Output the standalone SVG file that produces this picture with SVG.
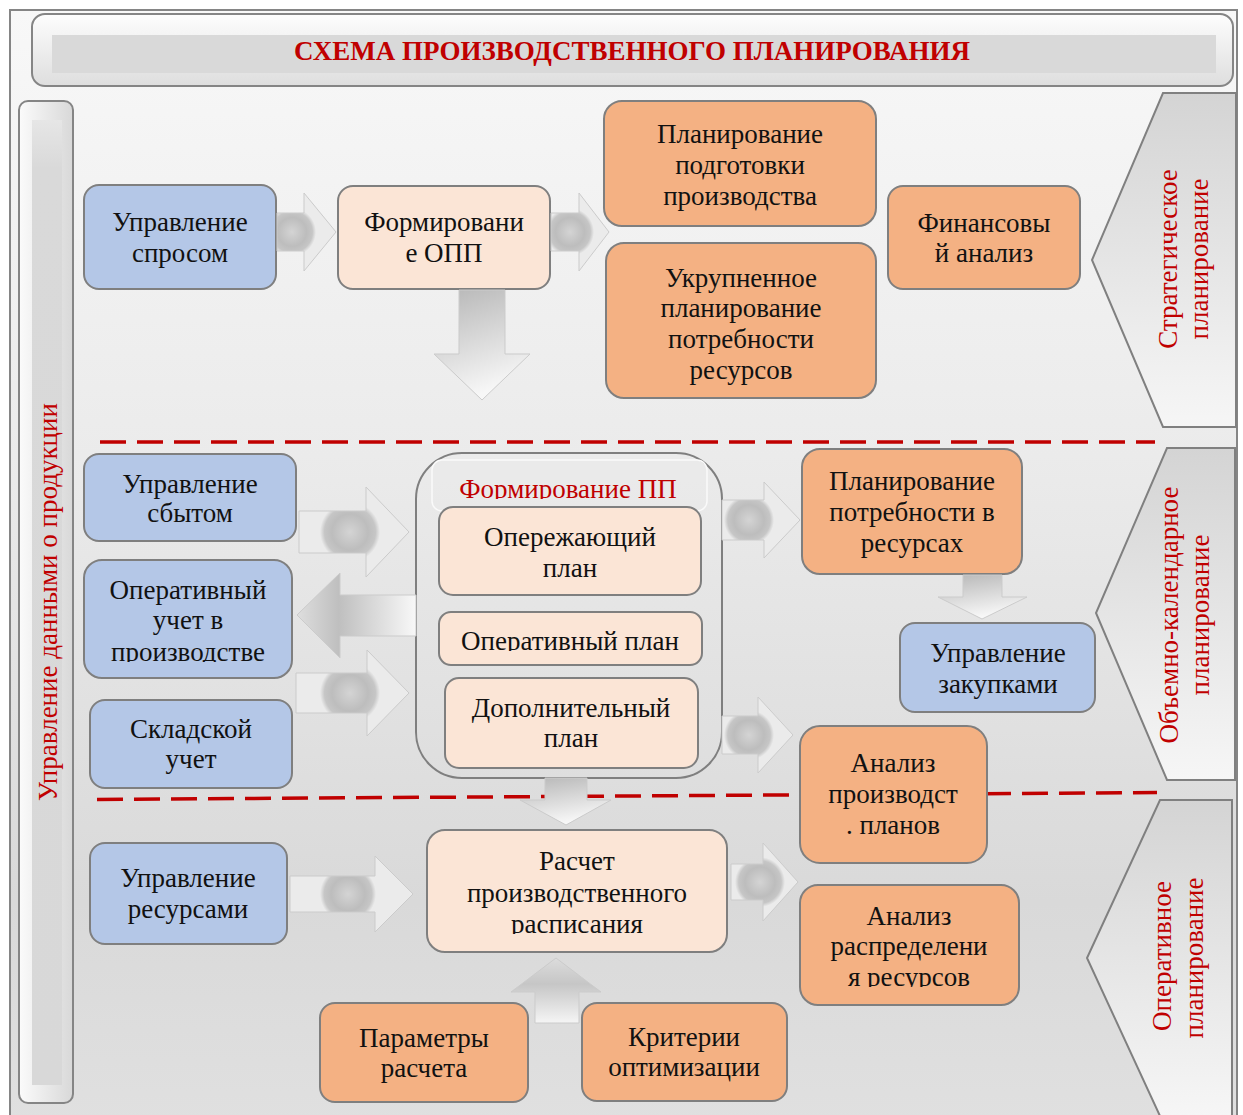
<svg xmlns="http://www.w3.org/2000/svg" width="1243" height="1115" viewBox="0 0 1243 1115">
  <style>
    .box { stroke: #7f7f7f; stroke-width: 2; }
    .blue { fill: #b4c7e7; }
    .peach { fill: #fbe5d6; }
    .orange { fill: #f4b183; }
    .t { font-family: "Liberation Serif", "Times New Roman", serif; font-size: 27px; fill: #111111; text-anchor: middle; }
    .red { fill: #c00000; }
    .title { font-weight: bold; }
    .frame { stroke: #858585; stroke-width: 2; }
    .chev { stroke: #808080; stroke-width: 2; fill: url(#gChev); }
    .dash { stroke: #c00000; stroke-width: 3.5; stroke-dasharray: 26 11; fill: none; }
    .arr { stroke: #cbcbcb; stroke-width: 1; }
  </style>
  <defs>
    <linearGradient id="gBg" x1="0" y1="0" x2="0" y2="1">
      <stop offset="0" stop-color="#f8f8f8"/>
      <stop offset="0.4" stop-color="#ebebeb"/>
      <stop offset="0.8" stop-color="#d9d9d9"/>
      <stop offset="1" stop-color="#e0e0e0"/>
    </linearGradient>
    <linearGradient id="gTitle" x1="0" y1="0" x2="0" y2="1">
      <stop offset="0" stop-color="#fdfdfd"/>
      <stop offset="1" stop-color="#dedede"/>
    </linearGradient>
    <linearGradient id="gBar" x1="0" y1="0" x2="1" y2="0">
      <stop offset="0" stop-color="#fbfbfb"/>
      <stop offset="1" stop-color="#d8d8d8"/>
    </linearGradient>
    <linearGradient id="gBarIn" x1="0" y1="0" x2="0" y2="1">
      <stop offset="0" stop-color="#e6e6e6"/>
      <stop offset="0.05" stop-color="#d9d9d9"/>
      <stop offset="1" stop-color="#d8d8d8"/>
    </linearGradient>
    <linearGradient id="gChev" x1="0" y1="0" x2="0" y2="1">
      <stop offset="0" stop-color="#d4d4d4"/>
      <stop offset="1" stop-color="#f6f6f6"/>
    </linearGradient>
    <!-- shaded "ball" on the horizontal block arrows -->
    <radialGradient id="gBall" gradientUnits="userSpaceOnUse" cx="0" cy="0" r="1">
      <stop offset="0" stop-color="#d4d4d4"/>
      <stop offset="0.6" stop-color="#bdbdbd"/>
      <stop offset="0.85" stop-color="#c6c6c6"/>
      <stop offset="1" stop-color="#ebebeb"/>
    </radialGradient>
    <radialGradient id="b1" href="#gBall" cx="292" cy="232" r="24"/>
    <radialGradient id="b2" href="#gBall" cx="570" cy="232" r="24"/>
    <radialGradient id="b4" href="#gBall" cx="350" cy="532" r="30"/>
    <radialGradient id="b6" href="#gBall" cx="350" cy="693" r="30"/>
    <radialGradient id="b7" href="#gBall" cx="749" cy="520" r="25"/>
    <radialGradient id="b8" href="#gBall" cx="749" cy="735" r="25"/>
    <radialGradient id="b11" href="#gBall" cx="348" cy="894" r="28"/>
    <radialGradient id="b12" href="#gBall" cx="760" cy="882" r="25"/>
    <linearGradient id="gDown" x1="0" y1="0" x2="0.3" y2="1">
      <stop offset="0" stop-color="#b6b6b6"/>
      <stop offset="1" stop-color="#f7f7f7"/>
    </linearGradient>
    <linearGradient id="gUp" x1="0" y1="0" x2="0" y2="1">
      <stop offset="0" stop-color="#dcdcdc"/>
      <stop offset="0.4" stop-color="#c6c6c6"/>
      <stop offset="1" stop-color="#f5f5f5"/>
    </linearGradient>
    <linearGradient id="gLeft" x1="0" y1="0" x2="1" y2="0">
      <stop offset="0" stop-color="#dedede"/>
      <stop offset="0.35" stop-color="#bfbfbf"/>
      <stop offset="1" stop-color="#f8f8f8"/>
    </linearGradient>
    <clipPath id="cFpp"><rect x="420" y="455" width="300" height="44"/></clipPath>
    <clipPath id="cOpPlan"><rect x="440" y="615" width="260" height="36"/></clipPath>
    <clipPath id="cUchet"><rect x="85" y="640" width="205" height="22"/></clipPath>
    <clipPath id="cRasp"><rect x="430" y="905" width="295" height="29"/></clipPath>
    <clipPath id="cRes"><rect x="802" y="960" width="215" height="27"/></clipPath>
  </defs>

  <!-- outer frame and background -->
  <rect x="10" y="10" width="1227" height="1115" class="frame" fill="url(#gBg)"/>

  <!-- title banner -->
  <g id="title">
    <rect x="32" y="14" width="1201" height="72" rx="13" class="frame" fill="url(#gTitle)"/>
    <rect x="52" y="35" width="1164" height="38" fill="#d9d9d9"/>
    <text x="632" y="60" class="t red title">СХЕМА ПРОИЗВОДСТВЕННОГО ПЛАНИРОВАНИЯ</text>
  </g>

  <!-- left band: product data management -->
  <g id="band-data">
    <rect x="19" y="101" width="54" height="1002" rx="9" class="frame" fill="url(#gBar)"/>
    <rect x="32" y="120" width="30" height="965" fill="url(#gBarIn)"/>
    <text transform="translate(57,602) rotate(-90)" class="t red">Управление данными о продукции</text>
  </g>

  <!-- right level markers -->
  <g id="level-strategic">
    <path d="M1163,93 H1236 V427 H1163 L1092,260 Z" class="chev"/>
    <text transform="translate(1177,259) rotate(-90)" class="t red">Стратегическое</text>
    <text transform="translate(1208,259) rotate(-90)" class="t red">планирование</text>
  </g>
  <g id="level-volume">
    <path d="M1167,448 H1235 V780 H1167 L1096,613 Z" class="chev"/>
    <text transform="translate(1178,615) rotate(-90)" class="t red">Объемно-календарное</text>
    <text transform="translate(1209,615) rotate(-90)" class="t red">планирование</text>
  </g>
  <g id="level-operative">
    <path d="M1160,800 H1232 V1116 H1160 L1087,958 Z" class="chev"/>
    <text transform="translate(1171,956) rotate(-90)" class="t red">Оперативное</text>
    <text transform="translate(1203,958) rotate(-90)" class="t red">планирование</text>
  </g>

  <!-- level separators -->
  <g id="separators">
    <line x1="100" y1="442" x2="1155" y2="442" class="dash"/>
    <line x1="97" y1="799.5" x2="1157" y2="792.5" class="dash"/>
  </g>

  <!-- strategic level -->
  <g id="demand">
    <rect x="84" y="185" width="192" height="104" rx="15" class="box blue"/>
    <text x="180" y="231" class="t">Управление</text>
    <text x="180" y="262" class="t">спросом</text>
  </g>
  <g id="opp">
    <rect x="338" y="186" width="212" height="103" rx="15" class="box peach"/>
    <text x="444" y="231" class="t">Формировани</text>
    <text x="444" y="262" class="t">е ОПП</text>
  </g>
  <g id="prep-planning">
    <rect x="604" y="101" width="272" height="125" rx="18" class="box orange"/>
    <text x="740" y="143" class="t">Планирование</text>
    <text x="740" y="174" class="t">подготовки</text>
    <text x="740" y="205" class="t">производства</text>
  </g>
  <g id="rough-cut">
    <rect x="606" y="243" width="270" height="155" rx="18" class="box orange"/>
    <text x="741" y="287" class="t">Укрупненное</text>
    <text x="741" y="317" class="t">планирование</text>
    <text x="741" y="348" class="t">потребности</text>
    <text x="741" y="379" class="t">ресурсов</text>
  </g>
  <g id="finance">
    <rect x="888" y="186" width="192" height="103" rx="15" class="box orange"/>
    <text x="984" y="232" class="t">Финансовы</text>
    <text x="984" y="262" class="t">й анализ</text>
  </g>

  <!-- volume and calendar level -->
  <g id="sales">
    <rect x="84" y="454" width="212" height="87" rx="15" class="box blue"/>
    <text x="190" y="493" class="t">Управление</text>
    <text x="190" y="522" class="t">сбытом</text>
  </g>
  <g id="shop-floor">
    <rect x="84" y="560" width="208" height="118" rx="18" class="box blue"/>
    <text x="188" y="599" class="t">Оперативный</text>
    <text x="188" y="629" class="t">учет в</text>
    <text x="188" y="661" class="t" clip-path="url(#cUchet)">производстве</text>
  </g>
  <g id="warehouse">
    <rect x="90" y="700" width="202" height="88" rx="15" class="box blue"/>
    <text x="191" y="738" class="t">Складской</text>
    <text x="191" y="768" class="t">учет</text>
  </g>

  <g id="pp">
    <rect x="416" y="453" width="306" height="325" rx="46" fill="none" class="box"/>
    <rect x="432" y="460" width="275" height="51" rx="10" fill="#e9e9e9" fill-opacity="0.5" stroke="#fafafa" stroke-width="1.5"/>
    <text x="568" y="498" class="t red" clip-path="url(#cFpp)">Формирование ПП</text>
  </g>
  <g id="advance-plan">
    <rect x="439" y="507" width="262" height="88" rx="14" class="box peach"/>
    <text x="570" y="546" class="t">Опережающий</text>
    <text x="570" y="577" class="t">план</text>
  </g>
  <g id="operative-plan">
    <rect x="439" y="612" width="263" height="53" rx="12" class="box peach"/>
    <text x="570" y="650" class="t" clip-path="url(#cOpPlan)">Оперативный план</text>
  </g>
  <g id="extra-plan">
    <rect x="445" y="678" width="253" height="90" rx="14" class="box peach"/>
    <text x="571" y="717" class="t">Дополнительный</text>
    <text x="571" y="747" class="t">план</text>
  </g>

  <g id="mrp">
    <rect x="802" y="449" width="220" height="125" rx="18" class="box orange"/>
    <text x="912" y="490" class="t">Планирование</text>
    <text x="912" y="521" class="t">потребности в</text>
    <text x="912" y="552" class="t">ресурсах</text>
  </g>
  <g id="purchasing">
    <rect x="900" y="623" width="195" height="89" rx="15" class="box blue"/>
    <text x="998" y="662" class="t">Управление</text>
    <text x="998" y="693" class="t">закупками</text>
  </g>
  <g id="plan-analysis">
    <rect x="800" y="726" width="187" height="137" rx="20" class="box orange"/>
    <text x="893" y="772" class="t">Анализ</text>
    <text x="893" y="803" class="t">производст</text>
    <text x="893" y="834" class="t">. планов</text>
  </g>

  <!-- operative level -->
  <g id="resources">
    <rect x="90" y="843" width="197" height="101" rx="15" class="box blue"/>
    <text x="188" y="887" class="t">Управление</text>
    <text x="188" y="918" class="t">ресурсами</text>
  </g>
  <g id="schedule">
    <rect x="427" y="830" width="300" height="122" rx="18" class="box peach"/>
    <text x="577" y="870" class="t">Расчет</text>
    <text x="577" y="902" class="t">производственного</text>
    <text x="577" y="933" class="t" clip-path="url(#cRasp)">расписания</text>
  </g>
  <g id="load-analysis">
    <rect x="800" y="885" width="219" height="120" rx="18" class="box orange"/>
    <text x="909" y="925" class="t">Анализ</text>
    <text x="909" y="955" class="t">распределени</text>
    <text x="909" y="986" class="t" clip-path="url(#cRes)">я ресурсов</text>
  </g>
  <g id="params">
    <rect x="320" y="1003" width="208" height="99" rx="15" class="box orange"/>
    <text x="424" y="1047" class="t">Параметры</text>
    <text x="424" y="1077" class="t">расчета</text>
  </g>
  <g id="criteria">
    <rect x="582" y="1003" width="205" height="98" rx="15" class="box orange"/>
    <text x="684" y="1046" class="t">Критерии</text>
    <text x="684" y="1076" class="t">оптимизации</text>
  </g>

  <!-- connectors: block arrows -->
  <g id="connectors">
    <path d="M277,213 H304 V193 L336,232 L304,271 V251 H277 Z" class="arr" fill="url(#b1)"/>
    <path d="M551,213 H579 V193 L609,232 L579,271 V251 H551 Z" class="arr" fill="url(#b2)"/>
    <path d="M459,290 H505 V354 H530 L482,400 L434,354 H459 Z" class="arr" fill="url(#gDown)"/>
    <path d="M299,511 H366 V487 L409,532 L366,577 V553 H299 Z" class="arr" fill="url(#b4)"/>
    <path d="M416,595 H340 V573 L297,615 L340,658 V636 H416 Z" class="arr" fill="url(#gLeft)"/>
    <path d="M296,673 H367 V650 L409,693 L367,736 V713 H296 Z" class="arr" fill="url(#b6)"/>
    <path d="M722,500 H764 V482 L800,520 L764,558 V540 H722 Z" class="arr" fill="url(#b7)"/>
    <path d="M722,716 H758 V697 L793,735 L758,773 V754 H722 Z" class="arr" fill="url(#b8)"/>
    <path d="M545,778 H587 V800 H611 L566,825 L520,800 H545 Z" class="arr" fill="url(#gDown)"/>
    <path d="M963,575 H1002 V597 H1027 L982,619 L938,597 H963 Z" class="arr" fill="url(#gDown)"/>
    <path d="M290,876 H375 V856 L413,894 L375,932 V912 H290 Z" class="arr" fill="url(#b11)"/>
    <path d="M731,864 H763 V843 L798,882 L763,921 V900 H731 Z" class="arr" fill="url(#b12)"/>
    <path d="M535,1023 H579 V992 H601 L556,958 L511,992 H535 Z" class="arr" fill="url(#gUp)"/>
  </g>
</svg>
